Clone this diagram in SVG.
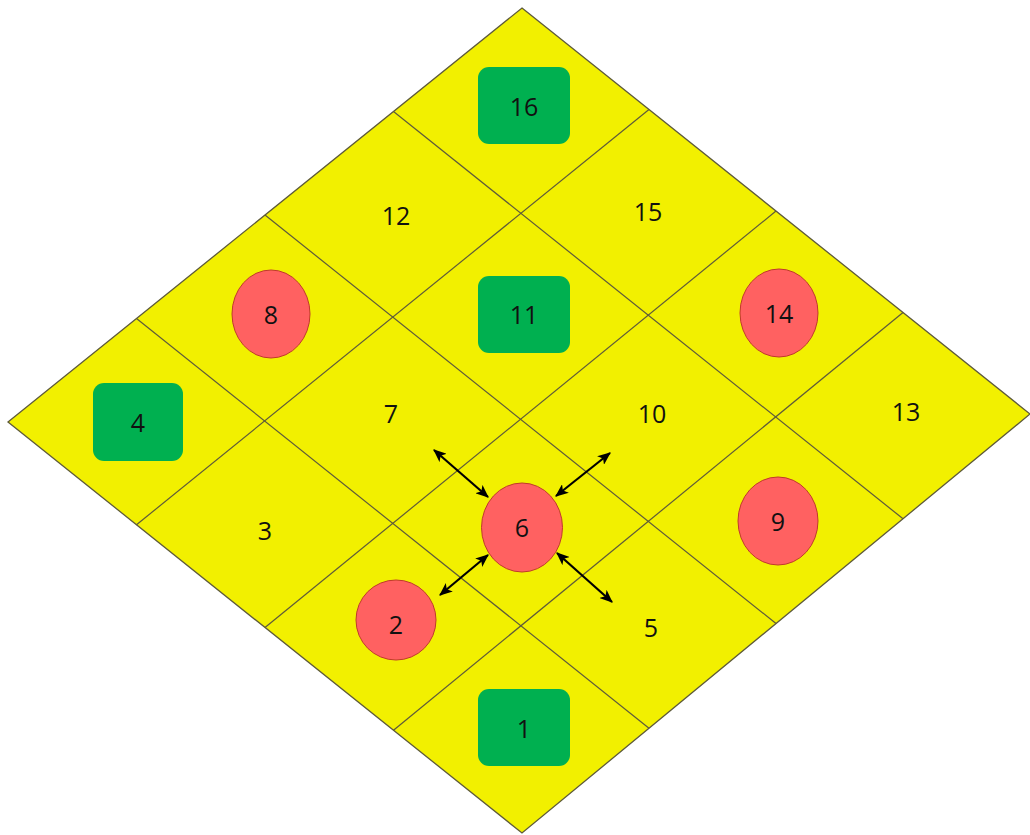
<svg xmlns="http://www.w3.org/2000/svg" width="1030" height="835" viewBox="0 0 1030 835">
<defs>
<style>
.board{fill:#F2F000;stroke:#5E5A3A;stroke-width:1.3}
.grid{stroke:#5E5A3A;stroke-width:1.2;fill:none}
.sq{fill:#00B050;stroke:none}
.rd{fill:#FF6161;stroke:#C0392B;stroke-width:1}
.t{font-family:"Open Sans","Liberation Sans",sans-serif;font-size:25px;fill:#111;text-anchor:middle;dominant-baseline:central}
.arr{stroke:#000;stroke-width:2.2;fill:none;marker-start:url(#ah);marker-end:url(#ah)}
</style>
<marker id="ah" viewBox="0 0 12 10" refX="11" refY="5" markerWidth="6" markerHeight="5" orient="auto-start-reverse" markerUnits="strokeWidth">
<path d="M0,0 L12,5 L0,10 L3,5 Z" fill="#000"/>
</marker>
</defs>
<rect width="1030" height="835" fill="#fff"/>
<g id="board">
<polygon class="board" points="522,8 1030,414 522,833 8,422"/>
<g class="grid">
<line x1="649" y1="109.5" x2="136.5" y2="524.75"/>
<line x1="776" y1="211" x2="265" y2="627.5"/>
<line x1="903" y1="312.5" x2="393.5" y2="730.25"/>
<line x1="393.5" y1="111.5" x2="903" y2="518.75"/>
<line x1="265" y1="215" x2="776" y2="623.5"/>
<line x1="136.5" y1="318.5" x2="649" y2="728.25"/>
</g>
</g>
<g id="connectors">
<line class="arr" x1="434" y1="450" x2="488" y2="497"/>
<line class="arr" x1="610" y1="453" x2="556" y2="496"/>
<line class="arr" x1="488" y1="555" x2="440" y2="595"/>
<line class="arr" x1="557" y1="553" x2="612" y2="602"/>
</g>
<g id="n16"><rect class="sq" x="478" y="67" width="92" height="77" rx="11"/><text class="t" x="524" y="106">16</text></g>
<g id="n15"><text class="t" x="648" y="211">15</text></g>
<g id="n14"><ellipse class="rd" cx="779" cy="313" rx="39" ry="44"/><text class="t" x="779" y="313">14</text></g>
<g id="n13"><text class="t" x="906" y="411">13</text></g>
<g id="n12"><text class="t" x="396" y="215">12</text></g>
<g id="n11"><rect class="sq" x="478" y="276" width="92" height="77" rx="11"/><text class="t" x="524" y="314">11</text></g>
<g id="n10"><text class="t" x="652" y="413">10</text></g>
<g id="n9"><ellipse class="rd" cx="778" cy="521" rx="40" ry="44"/><text class="t" x="778" y="521">9</text></g>
<g id="n8"><ellipse class="rd" cx="271" cy="314" rx="39" ry="44"/><text class="t" x="271" y="314">8</text></g>
<g id="n7"><text class="t" x="391" y="413">7</text></g>
<g id="n6"><ellipse class="rd" cx="522" cy="527.5" rx="40.5" ry="44.5"/><text class="t" x="522" y="527">6</text></g>
<g id="n5"><text class="t" x="651" y="627">5</text></g>
<g id="n4"><rect class="sq" x="93" y="383" width="90" height="78" rx="11"/><text class="t" x="138" y="422">4</text></g>
<g id="n3"><text class="t" x="265" y="530">3</text></g>
<g id="n2"><ellipse class="rd" cx="396" cy="620" rx="40" ry="40"/><text class="t" x="396" y="624">2</text></g>
<g id="n1"><rect class="sq" x="478" y="689" width="92" height="77" rx="11"/><text class="t" x="524" y="728">1</text></g>
</svg>
